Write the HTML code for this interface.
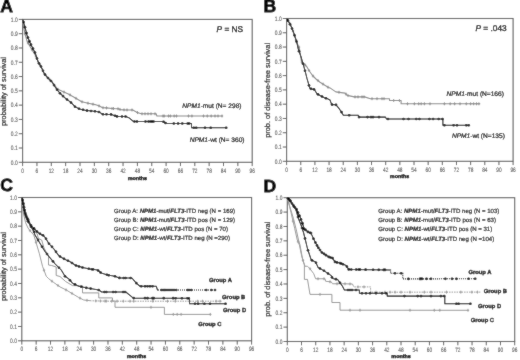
<!DOCTYPE html>
<html><head><meta charset="utf-8"><style>
html,body{margin:0;padding:0;background:#fff;}
svg{display:block;will-change:transform;}
text{font-family:"Liberation Sans", sans-serif;stroke-width:0.2;text-rendering:geometricPrecision;}
.tk{font-size:6.3px;fill:#555555;stroke:#555555;stroke-width:0.1px;}
.let{font-size:17.6px;font-weight:bold;fill:#000;stroke:#000;stroke-width:0.75px;}
.yl{font-size:7.4px;fill:#111;stroke:#111;}
.mo{font-size:5.4px;font-weight:bold;fill:#000;stroke:#000;stroke-width:0.35px;}
.pv{font-size:8.3px;fill:#000;stroke:#000;stroke-width:0.3px;}
.lb{font-size:6.6px;fill:#000;stroke:#000;}
.lg{font-size:6.07px;fill:#111;stroke:#111;}
.gp{font-size:5.8px;font-weight:bold;fill:#000;stroke:#000;stroke-width:0.3px;}
</style></head><body>
<svg width="520" height="360" viewBox="0 0 520 360">
<defs><filter id="bl" x="0" y="0" width="1" height="1"><feConvolveMatrix order="3" kernelMatrix="1 2 1 2 28 2 1 2 1" edgeMode="duplicate"/></filter></defs>
<rect width="520" height="360" fill="#fff"/>
<g filter="url(#bl)">
<rect width="520" height="360" fill="#fff"/>
<rect x="22.6" y="19.4" width="229.6" height="142.9" fill="none" stroke="#5a5a5a" stroke-width="1.1"/>
<line x1="18.8" y1="162.3" x2="22.6" y2="162.3" stroke="#5a5a5a" stroke-width="1"/>
<text transform="translate(17.7,164.55) scale(0.78,1)" class="tk" text-anchor="end">0.0</text>
<line x1="18.8" y1="148.01" x2="22.6" y2="148.01" stroke="#5a5a5a" stroke-width="1"/>
<text transform="translate(17.7,150.26) scale(0.78,1)" class="tk" text-anchor="end">0.1</text>
<line x1="18.8" y1="133.72" x2="22.6" y2="133.72" stroke="#5a5a5a" stroke-width="1"/>
<text transform="translate(17.7,135.97) scale(0.78,1)" class="tk" text-anchor="end">0.2</text>
<line x1="18.8" y1="119.43" x2="22.6" y2="119.43" stroke="#5a5a5a" stroke-width="1"/>
<text transform="translate(17.7,121.68) scale(0.78,1)" class="tk" text-anchor="end">0.3</text>
<line x1="18.8" y1="105.14" x2="22.6" y2="105.14" stroke="#5a5a5a" stroke-width="1"/>
<text transform="translate(17.7,107.39) scale(0.78,1)" class="tk" text-anchor="end">0.4</text>
<line x1="18.8" y1="90.85" x2="22.6" y2="90.85" stroke="#5a5a5a" stroke-width="1"/>
<text transform="translate(17.7,93.1) scale(0.78,1)" class="tk" text-anchor="end">0.5</text>
<line x1="18.8" y1="76.56" x2="22.6" y2="76.56" stroke="#5a5a5a" stroke-width="1"/>
<text transform="translate(17.7,78.81) scale(0.78,1)" class="tk" text-anchor="end">0.6</text>
<line x1="18.8" y1="62.27" x2="22.6" y2="62.27" stroke="#5a5a5a" stroke-width="1"/>
<text transform="translate(17.7,64.52) scale(0.78,1)" class="tk" text-anchor="end">0.7</text>
<line x1="18.8" y1="47.98" x2="22.6" y2="47.98" stroke="#5a5a5a" stroke-width="1"/>
<text transform="translate(17.7,50.23) scale(0.78,1)" class="tk" text-anchor="end">0.8</text>
<line x1="18.8" y1="33.69" x2="22.6" y2="33.69" stroke="#5a5a5a" stroke-width="1"/>
<text transform="translate(17.7,35.94) scale(0.78,1)" class="tk" text-anchor="end">0.9</text>
<line x1="18.8" y1="19.4" x2="22.6" y2="19.4" stroke="#5a5a5a" stroke-width="1"/>
<text transform="translate(17.7,21.65) scale(0.78,1)" class="tk" text-anchor="end">1.0</text>
<line x1="22.6" y1="162.3" x2="22.6" y2="166.1" stroke="#5a5a5a" stroke-width="1"/>
<text transform="translate(22.6,172.75) scale(0.76,1)" class="tk" text-anchor="middle">0</text>
<line x1="36.95" y1="162.3" x2="36.95" y2="166.1" stroke="#5a5a5a" stroke-width="1"/>
<text transform="translate(36.95,172.75) scale(0.76,1)" class="tk" text-anchor="middle">6</text>
<line x1="51.3" y1="162.3" x2="51.3" y2="166.1" stroke="#5a5a5a" stroke-width="1"/>
<text transform="translate(51.3,172.75) scale(0.76,1)" class="tk" text-anchor="middle">12</text>
<line x1="65.65" y1="162.3" x2="65.65" y2="166.1" stroke="#5a5a5a" stroke-width="1"/>
<text transform="translate(65.65,172.75) scale(0.76,1)" class="tk" text-anchor="middle">18</text>
<line x1="80" y1="162.3" x2="80" y2="166.1" stroke="#5a5a5a" stroke-width="1"/>
<text transform="translate(80,172.75) scale(0.76,1)" class="tk" text-anchor="middle">24</text>
<line x1="94.35" y1="162.3" x2="94.35" y2="166.1" stroke="#5a5a5a" stroke-width="1"/>
<text transform="translate(94.35,172.75) scale(0.76,1)" class="tk" text-anchor="middle">30</text>
<line x1="108.7" y1="162.3" x2="108.7" y2="166.1" stroke="#5a5a5a" stroke-width="1"/>
<text transform="translate(108.7,172.75) scale(0.76,1)" class="tk" text-anchor="middle">36</text>
<line x1="123.05" y1="162.3" x2="123.05" y2="166.1" stroke="#5a5a5a" stroke-width="1"/>
<text transform="translate(123.05,172.75) scale(0.76,1)" class="tk" text-anchor="middle">42</text>
<line x1="137.4" y1="162.3" x2="137.4" y2="166.1" stroke="#5a5a5a" stroke-width="1"/>
<text transform="translate(137.4,172.75) scale(0.76,1)" class="tk" text-anchor="middle">48</text>
<line x1="151.75" y1="162.3" x2="151.75" y2="166.1" stroke="#5a5a5a" stroke-width="1"/>
<text transform="translate(151.75,172.75) scale(0.76,1)" class="tk" text-anchor="middle">54</text>
<line x1="166.1" y1="162.3" x2="166.1" y2="166.1" stroke="#5a5a5a" stroke-width="1"/>
<text transform="translate(166.1,172.75) scale(0.76,1)" class="tk" text-anchor="middle">60</text>
<line x1="180.45" y1="162.3" x2="180.45" y2="166.1" stroke="#5a5a5a" stroke-width="1"/>
<text transform="translate(180.45,172.75) scale(0.76,1)" class="tk" text-anchor="middle">66</text>
<line x1="194.8" y1="162.3" x2="194.8" y2="166.1" stroke="#5a5a5a" stroke-width="1"/>
<text transform="translate(194.8,172.75) scale(0.76,1)" class="tk" text-anchor="middle">72</text>
<line x1="209.15" y1="162.3" x2="209.15" y2="166.1" stroke="#5a5a5a" stroke-width="1"/>
<text transform="translate(209.15,172.75) scale(0.76,1)" class="tk" text-anchor="middle">78</text>
<line x1="223.5" y1="162.3" x2="223.5" y2="166.1" stroke="#5a5a5a" stroke-width="1"/>
<text transform="translate(223.5,172.75) scale(0.76,1)" class="tk" text-anchor="middle">84</text>
<line x1="237.85" y1="162.3" x2="237.85" y2="166.1" stroke="#5a5a5a" stroke-width="1"/>
<text transform="translate(237.85,172.75) scale(0.76,1)" class="tk" text-anchor="middle">90</text>
<line x1="252.2" y1="162.3" x2="252.2" y2="166.1" stroke="#5a5a5a" stroke-width="1"/>
<text transform="translate(252.2,172.75) scale(0.76,1)" class="tk" text-anchor="middle">96</text>
<text x="0.3" y="12.4" class="let">A</text>
<text transform="translate(6.3,91.5) rotate(-90)" class="yl" text-anchor="middle">probability of survival</text>
<text x="137.4" y="179.6" class="mo" text-anchor="middle">months</text>
<rect x="286.6" y="18.5" width="226.5" height="142.8" fill="none" stroke="#5a5a5a" stroke-width="1.1"/>
<line x1="282.8" y1="161.3" x2="286.6" y2="161.3" stroke="#5a5a5a" stroke-width="1"/>
<text transform="translate(281.7,163.55) scale(0.78,1)" class="tk" text-anchor="end">0.0</text>
<line x1="282.8" y1="147.02" x2="286.6" y2="147.02" stroke="#5a5a5a" stroke-width="1"/>
<text transform="translate(281.7,149.27) scale(0.78,1)" class="tk" text-anchor="end">0.1</text>
<line x1="282.8" y1="132.74" x2="286.6" y2="132.74" stroke="#5a5a5a" stroke-width="1"/>
<text transform="translate(281.7,134.99) scale(0.78,1)" class="tk" text-anchor="end">0.2</text>
<line x1="282.8" y1="118.46" x2="286.6" y2="118.46" stroke="#5a5a5a" stroke-width="1"/>
<text transform="translate(281.7,120.71) scale(0.78,1)" class="tk" text-anchor="end">0.3</text>
<line x1="282.8" y1="104.18" x2="286.6" y2="104.18" stroke="#5a5a5a" stroke-width="1"/>
<text transform="translate(281.7,106.43) scale(0.78,1)" class="tk" text-anchor="end">0.4</text>
<line x1="282.8" y1="89.9" x2="286.6" y2="89.9" stroke="#5a5a5a" stroke-width="1"/>
<text transform="translate(281.7,92.15) scale(0.78,1)" class="tk" text-anchor="end">0.5</text>
<line x1="282.8" y1="75.62" x2="286.6" y2="75.62" stroke="#5a5a5a" stroke-width="1"/>
<text transform="translate(281.7,77.87) scale(0.78,1)" class="tk" text-anchor="end">0.6</text>
<line x1="282.8" y1="61.34" x2="286.6" y2="61.34" stroke="#5a5a5a" stroke-width="1"/>
<text transform="translate(281.7,63.59) scale(0.78,1)" class="tk" text-anchor="end">0.7</text>
<line x1="282.8" y1="47.06" x2="286.6" y2="47.06" stroke="#5a5a5a" stroke-width="1"/>
<text transform="translate(281.7,49.31) scale(0.78,1)" class="tk" text-anchor="end">0.8</text>
<line x1="282.8" y1="32.78" x2="286.6" y2="32.78" stroke="#5a5a5a" stroke-width="1"/>
<text transform="translate(281.7,35.03) scale(0.78,1)" class="tk" text-anchor="end">0.9</text>
<line x1="282.8" y1="18.5" x2="286.6" y2="18.5" stroke="#5a5a5a" stroke-width="1"/>
<text transform="translate(281.7,20.75) scale(0.78,1)" class="tk" text-anchor="end">1.0</text>
<line x1="286.6" y1="161.3" x2="286.6" y2="165.1" stroke="#5a5a5a" stroke-width="1"/>
<text transform="translate(286.6,171.75) scale(0.76,1)" class="tk" text-anchor="middle">0</text>
<line x1="300.76" y1="161.3" x2="300.76" y2="165.1" stroke="#5a5a5a" stroke-width="1"/>
<text transform="translate(300.76,171.75) scale(0.76,1)" class="tk" text-anchor="middle">6</text>
<line x1="314.91" y1="161.3" x2="314.91" y2="165.1" stroke="#5a5a5a" stroke-width="1"/>
<text transform="translate(314.91,171.75) scale(0.76,1)" class="tk" text-anchor="middle">12</text>
<line x1="329.07" y1="161.3" x2="329.07" y2="165.1" stroke="#5a5a5a" stroke-width="1"/>
<text transform="translate(329.07,171.75) scale(0.76,1)" class="tk" text-anchor="middle">18</text>
<line x1="343.23" y1="161.3" x2="343.23" y2="165.1" stroke="#5a5a5a" stroke-width="1"/>
<text transform="translate(343.23,171.75) scale(0.76,1)" class="tk" text-anchor="middle">24</text>
<line x1="357.38" y1="161.3" x2="357.38" y2="165.1" stroke="#5a5a5a" stroke-width="1"/>
<text transform="translate(357.38,171.75) scale(0.76,1)" class="tk" text-anchor="middle">30</text>
<line x1="371.54" y1="161.3" x2="371.54" y2="165.1" stroke="#5a5a5a" stroke-width="1"/>
<text transform="translate(371.54,171.75) scale(0.76,1)" class="tk" text-anchor="middle">36</text>
<line x1="385.69" y1="161.3" x2="385.69" y2="165.1" stroke="#5a5a5a" stroke-width="1"/>
<text transform="translate(385.69,171.75) scale(0.76,1)" class="tk" text-anchor="middle">42</text>
<line x1="399.85" y1="161.3" x2="399.85" y2="165.1" stroke="#5a5a5a" stroke-width="1"/>
<text transform="translate(399.85,171.75) scale(0.76,1)" class="tk" text-anchor="middle">48</text>
<line x1="414.01" y1="161.3" x2="414.01" y2="165.1" stroke="#5a5a5a" stroke-width="1"/>
<text transform="translate(414.01,171.75) scale(0.76,1)" class="tk" text-anchor="middle">54</text>
<line x1="428.16" y1="161.3" x2="428.16" y2="165.1" stroke="#5a5a5a" stroke-width="1"/>
<text transform="translate(428.16,171.75) scale(0.76,1)" class="tk" text-anchor="middle">60</text>
<line x1="442.32" y1="161.3" x2="442.32" y2="165.1" stroke="#5a5a5a" stroke-width="1"/>
<text transform="translate(442.32,171.75) scale(0.76,1)" class="tk" text-anchor="middle">66</text>
<line x1="456.48" y1="161.3" x2="456.48" y2="165.1" stroke="#5a5a5a" stroke-width="1"/>
<text transform="translate(456.48,171.75) scale(0.76,1)" class="tk" text-anchor="middle">72</text>
<line x1="470.63" y1="161.3" x2="470.63" y2="165.1" stroke="#5a5a5a" stroke-width="1"/>
<text transform="translate(470.63,171.75) scale(0.76,1)" class="tk" text-anchor="middle">78</text>
<line x1="484.79" y1="161.3" x2="484.79" y2="165.1" stroke="#5a5a5a" stroke-width="1"/>
<text transform="translate(484.79,171.75) scale(0.76,1)" class="tk" text-anchor="middle">84</text>
<line x1="498.94" y1="161.3" x2="498.94" y2="165.1" stroke="#5a5a5a" stroke-width="1"/>
<text transform="translate(498.94,171.75) scale(0.76,1)" class="tk" text-anchor="middle">90</text>
<line x1="513.1" y1="161.3" x2="513.1" y2="165.1" stroke="#5a5a5a" stroke-width="1"/>
<text transform="translate(513.1,171.75) scale(0.76,1)" class="tk" text-anchor="middle">96</text>
<text x="263.4" y="12.4" class="let">B</text>
<text transform="translate(270,90.4) rotate(-90)" class="yl" text-anchor="middle">prob. of disease-free survival</text>
<text x="399.6" y="178.3" class="mo" text-anchor="middle">months</text>
<rect x="21.8" y="197.5" width="229.8" height="143.3" fill="none" stroke="#5a5a5a" stroke-width="1.1"/>
<line x1="18" y1="340.8" x2="21.8" y2="340.8" stroke="#5a5a5a" stroke-width="1"/>
<text transform="translate(16.9,343.05) scale(0.78,1)" class="tk" text-anchor="end">0.0</text>
<line x1="18" y1="326.47" x2="21.8" y2="326.47" stroke="#5a5a5a" stroke-width="1"/>
<text transform="translate(16.9,328.72) scale(0.78,1)" class="tk" text-anchor="end">0.1</text>
<line x1="18" y1="312.14" x2="21.8" y2="312.14" stroke="#5a5a5a" stroke-width="1"/>
<text transform="translate(16.9,314.39) scale(0.78,1)" class="tk" text-anchor="end">0.2</text>
<line x1="18" y1="297.81" x2="21.8" y2="297.81" stroke="#5a5a5a" stroke-width="1"/>
<text transform="translate(16.9,300.06) scale(0.78,1)" class="tk" text-anchor="end">0.3</text>
<line x1="18" y1="283.48" x2="21.8" y2="283.48" stroke="#5a5a5a" stroke-width="1"/>
<text transform="translate(16.9,285.73) scale(0.78,1)" class="tk" text-anchor="end">0.4</text>
<line x1="18" y1="269.15" x2="21.8" y2="269.15" stroke="#5a5a5a" stroke-width="1"/>
<text transform="translate(16.9,271.4) scale(0.78,1)" class="tk" text-anchor="end">0.5</text>
<line x1="18" y1="254.82" x2="21.8" y2="254.82" stroke="#5a5a5a" stroke-width="1"/>
<text transform="translate(16.9,257.07) scale(0.78,1)" class="tk" text-anchor="end">0.6</text>
<line x1="18" y1="240.49" x2="21.8" y2="240.49" stroke="#5a5a5a" stroke-width="1"/>
<text transform="translate(16.9,242.74) scale(0.78,1)" class="tk" text-anchor="end">0.7</text>
<line x1="18" y1="226.16" x2="21.8" y2="226.16" stroke="#5a5a5a" stroke-width="1"/>
<text transform="translate(16.9,228.41) scale(0.78,1)" class="tk" text-anchor="end">0.8</text>
<line x1="18" y1="211.83" x2="21.8" y2="211.83" stroke="#5a5a5a" stroke-width="1"/>
<text transform="translate(16.9,214.08) scale(0.78,1)" class="tk" text-anchor="end">0.9</text>
<line x1="18" y1="197.5" x2="21.8" y2="197.5" stroke="#5a5a5a" stroke-width="1"/>
<text transform="translate(16.9,199.75) scale(0.78,1)" class="tk" text-anchor="end">1.0</text>
<line x1="21.8" y1="340.8" x2="21.8" y2="344.6" stroke="#5a5a5a" stroke-width="1"/>
<text transform="translate(21.8,351.25) scale(0.76,1)" class="tk" text-anchor="middle">0</text>
<line x1="36.16" y1="340.8" x2="36.16" y2="344.6" stroke="#5a5a5a" stroke-width="1"/>
<text transform="translate(36.16,351.25) scale(0.76,1)" class="tk" text-anchor="middle">6</text>
<line x1="50.52" y1="340.8" x2="50.52" y2="344.6" stroke="#5a5a5a" stroke-width="1"/>
<text transform="translate(50.52,351.25) scale(0.76,1)" class="tk" text-anchor="middle">12</text>
<line x1="64.89" y1="340.8" x2="64.89" y2="344.6" stroke="#5a5a5a" stroke-width="1"/>
<text transform="translate(64.89,351.25) scale(0.76,1)" class="tk" text-anchor="middle">18</text>
<line x1="79.25" y1="340.8" x2="79.25" y2="344.6" stroke="#5a5a5a" stroke-width="1"/>
<text transform="translate(79.25,351.25) scale(0.76,1)" class="tk" text-anchor="middle">24</text>
<line x1="93.61" y1="340.8" x2="93.61" y2="344.6" stroke="#5a5a5a" stroke-width="1"/>
<text transform="translate(93.61,351.25) scale(0.76,1)" class="tk" text-anchor="middle">30</text>
<line x1="107.97" y1="340.8" x2="107.97" y2="344.6" stroke="#5a5a5a" stroke-width="1"/>
<text transform="translate(107.97,351.25) scale(0.76,1)" class="tk" text-anchor="middle">36</text>
<line x1="122.34" y1="340.8" x2="122.34" y2="344.6" stroke="#5a5a5a" stroke-width="1"/>
<text transform="translate(122.34,351.25) scale(0.76,1)" class="tk" text-anchor="middle">42</text>
<line x1="136.7" y1="340.8" x2="136.7" y2="344.6" stroke="#5a5a5a" stroke-width="1"/>
<text transform="translate(136.7,351.25) scale(0.76,1)" class="tk" text-anchor="middle">48</text>
<line x1="151.06" y1="340.8" x2="151.06" y2="344.6" stroke="#5a5a5a" stroke-width="1"/>
<text transform="translate(151.06,351.25) scale(0.76,1)" class="tk" text-anchor="middle">54</text>
<line x1="165.43" y1="340.8" x2="165.43" y2="344.6" stroke="#5a5a5a" stroke-width="1"/>
<text transform="translate(165.43,351.25) scale(0.76,1)" class="tk" text-anchor="middle">60</text>
<line x1="179.79" y1="340.8" x2="179.79" y2="344.6" stroke="#5a5a5a" stroke-width="1"/>
<text transform="translate(179.79,351.25) scale(0.76,1)" class="tk" text-anchor="middle">66</text>
<line x1="194.15" y1="340.8" x2="194.15" y2="344.6" stroke="#5a5a5a" stroke-width="1"/>
<text transform="translate(194.15,351.25) scale(0.76,1)" class="tk" text-anchor="middle">72</text>
<line x1="208.51" y1="340.8" x2="208.51" y2="344.6" stroke="#5a5a5a" stroke-width="1"/>
<text transform="translate(208.51,351.25) scale(0.76,1)" class="tk" text-anchor="middle">78</text>
<line x1="222.88" y1="340.8" x2="222.88" y2="344.6" stroke="#5a5a5a" stroke-width="1"/>
<text transform="translate(222.88,351.25) scale(0.76,1)" class="tk" text-anchor="middle">84</text>
<line x1="237.24" y1="340.8" x2="237.24" y2="344.6" stroke="#5a5a5a" stroke-width="1"/>
<text transform="translate(237.24,351.25) scale(0.76,1)" class="tk" text-anchor="middle">90</text>
<line x1="251.6" y1="340.8" x2="251.6" y2="344.6" stroke="#5a5a5a" stroke-width="1"/>
<text transform="translate(251.6,351.25) scale(0.76,1)" class="tk" text-anchor="middle">96</text>
<text x="0.2" y="191.4" class="let">C</text>
<text transform="translate(6,266.5) rotate(-90)" class="yl" text-anchor="middle">probability of survival</text>
<text x="136.5" y="357.7" class="mo" text-anchor="middle">months</text>
<rect x="287.3" y="197.7" width="227.4" height="143.8" fill="none" stroke="#5a5a5a" stroke-width="1.1"/>
<line x1="283.5" y1="341.5" x2="287.3" y2="341.5" stroke="#5a5a5a" stroke-width="1"/>
<text transform="translate(282.4,343.75) scale(0.78,1)" class="tk" text-anchor="end">0.0</text>
<line x1="283.5" y1="327.12" x2="287.3" y2="327.12" stroke="#5a5a5a" stroke-width="1"/>
<text transform="translate(282.4,329.37) scale(0.78,1)" class="tk" text-anchor="end">0.1</text>
<line x1="283.5" y1="312.74" x2="287.3" y2="312.74" stroke="#5a5a5a" stroke-width="1"/>
<text transform="translate(282.4,314.99) scale(0.78,1)" class="tk" text-anchor="end">0.2</text>
<line x1="283.5" y1="298.36" x2="287.3" y2="298.36" stroke="#5a5a5a" stroke-width="1"/>
<text transform="translate(282.4,300.61) scale(0.78,1)" class="tk" text-anchor="end">0.3</text>
<line x1="283.5" y1="283.98" x2="287.3" y2="283.98" stroke="#5a5a5a" stroke-width="1"/>
<text transform="translate(282.4,286.23) scale(0.78,1)" class="tk" text-anchor="end">0.4</text>
<line x1="283.5" y1="269.6" x2="287.3" y2="269.6" stroke="#5a5a5a" stroke-width="1"/>
<text transform="translate(282.4,271.85) scale(0.78,1)" class="tk" text-anchor="end">0.5</text>
<line x1="283.5" y1="255.22" x2="287.3" y2="255.22" stroke="#5a5a5a" stroke-width="1"/>
<text transform="translate(282.4,257.47) scale(0.78,1)" class="tk" text-anchor="end">0.6</text>
<line x1="283.5" y1="240.84" x2="287.3" y2="240.84" stroke="#5a5a5a" stroke-width="1"/>
<text transform="translate(282.4,243.09) scale(0.78,1)" class="tk" text-anchor="end">0.7</text>
<line x1="283.5" y1="226.46" x2="287.3" y2="226.46" stroke="#5a5a5a" stroke-width="1"/>
<text transform="translate(282.4,228.71) scale(0.78,1)" class="tk" text-anchor="end">0.8</text>
<line x1="283.5" y1="212.08" x2="287.3" y2="212.08" stroke="#5a5a5a" stroke-width="1"/>
<text transform="translate(282.4,214.33) scale(0.78,1)" class="tk" text-anchor="end">0.9</text>
<line x1="283.5" y1="197.7" x2="287.3" y2="197.7" stroke="#5a5a5a" stroke-width="1"/>
<text transform="translate(282.4,199.95) scale(0.78,1)" class="tk" text-anchor="end">1.0</text>
<line x1="287.3" y1="341.5" x2="287.3" y2="345.3" stroke="#5a5a5a" stroke-width="1"/>
<text transform="translate(287.3,351.95) scale(0.76,1)" class="tk" text-anchor="middle">0</text>
<line x1="301.51" y1="341.5" x2="301.51" y2="345.3" stroke="#5a5a5a" stroke-width="1"/>
<text transform="translate(301.51,351.95) scale(0.76,1)" class="tk" text-anchor="middle">6</text>
<line x1="315.73" y1="341.5" x2="315.73" y2="345.3" stroke="#5a5a5a" stroke-width="1"/>
<text transform="translate(315.73,351.95) scale(0.76,1)" class="tk" text-anchor="middle">12</text>
<line x1="329.94" y1="341.5" x2="329.94" y2="345.3" stroke="#5a5a5a" stroke-width="1"/>
<text transform="translate(329.94,351.95) scale(0.76,1)" class="tk" text-anchor="middle">18</text>
<line x1="344.15" y1="341.5" x2="344.15" y2="345.3" stroke="#5a5a5a" stroke-width="1"/>
<text transform="translate(344.15,351.95) scale(0.76,1)" class="tk" text-anchor="middle">24</text>
<line x1="358.36" y1="341.5" x2="358.36" y2="345.3" stroke="#5a5a5a" stroke-width="1"/>
<text transform="translate(358.36,351.95) scale(0.76,1)" class="tk" text-anchor="middle">30</text>
<line x1="372.58" y1="341.5" x2="372.58" y2="345.3" stroke="#5a5a5a" stroke-width="1"/>
<text transform="translate(372.58,351.95) scale(0.76,1)" class="tk" text-anchor="middle">36</text>
<line x1="386.79" y1="341.5" x2="386.79" y2="345.3" stroke="#5a5a5a" stroke-width="1"/>
<text transform="translate(386.79,351.95) scale(0.76,1)" class="tk" text-anchor="middle">42</text>
<line x1="401" y1="341.5" x2="401" y2="345.3" stroke="#5a5a5a" stroke-width="1"/>
<text transform="translate(401,351.95) scale(0.76,1)" class="tk" text-anchor="middle">48</text>
<line x1="415.21" y1="341.5" x2="415.21" y2="345.3" stroke="#5a5a5a" stroke-width="1"/>
<text transform="translate(415.21,351.95) scale(0.76,1)" class="tk" text-anchor="middle">54</text>
<line x1="429.43" y1="341.5" x2="429.43" y2="345.3" stroke="#5a5a5a" stroke-width="1"/>
<text transform="translate(429.43,351.95) scale(0.76,1)" class="tk" text-anchor="middle">60</text>
<line x1="443.64" y1="341.5" x2="443.64" y2="345.3" stroke="#5a5a5a" stroke-width="1"/>
<text transform="translate(443.64,351.95) scale(0.76,1)" class="tk" text-anchor="middle">66</text>
<line x1="457.85" y1="341.5" x2="457.85" y2="345.3" stroke="#5a5a5a" stroke-width="1"/>
<text transform="translate(457.85,351.95) scale(0.76,1)" class="tk" text-anchor="middle">72</text>
<line x1="472.06" y1="341.5" x2="472.06" y2="345.3" stroke="#5a5a5a" stroke-width="1"/>
<text transform="translate(472.06,351.95) scale(0.76,1)" class="tk" text-anchor="middle">78</text>
<line x1="486.28" y1="341.5" x2="486.28" y2="345.3" stroke="#5a5a5a" stroke-width="1"/>
<text transform="translate(486.28,351.95) scale(0.76,1)" class="tk" text-anchor="middle">84</text>
<line x1="500.49" y1="341.5" x2="500.49" y2="345.3" stroke="#5a5a5a" stroke-width="1"/>
<text transform="translate(500.49,351.95) scale(0.76,1)" class="tk" text-anchor="middle">90</text>
<line x1="514.7" y1="341.5" x2="514.7" y2="345.3" stroke="#5a5a5a" stroke-width="1"/>
<text transform="translate(514.7,351.95) scale(0.76,1)" class="tk" text-anchor="middle">96</text>
<text x="263.4" y="191.5" class="let">D</text>
<text transform="translate(270,269.3) rotate(-90)" class="yl" text-anchor="middle">prob. of disease-free survival</text>
<text x="401.1" y="357.8" class="mo" text-anchor="middle">months</text>
<polyline points="22.6,19.4 23.3,24.9 25,33.8 27.2,41.6 31.1,48.2 34.4,53.8 36.7,57.8 38.3,62.2 41.1,66.7 44.4,73.9 47.8,77.8 52.2,82.2 55,85.5 57.2,88.9 61.7,91.1 68.3,93.9 75,97.8 81.7,101.7 88.3,103.3 95,104.6 98.8,105.8 102.7,107.7 106.5,107.9 111.9,108.5 118.1,108.8 120.4,109.6 124.2,109.9 132.7,110 135,111.2 137.7,112.7 141.5,113.8 156.2,113.8 156.9,116 222.7,116" fill="none" stroke="#8a8a8a" stroke-width="1.1" stroke-linejoin="round"/>
<path d="M25,32.3V35.3M23.8,33.8H26.2" stroke="#8a8a8a" stroke-width="0.9" fill="none"/>
<path d="M28,41.45V44.45M26.8,42.95H29.2" stroke="#8a8a8a" stroke-width="0.9" fill="none"/>
<path d="M32,48.23V51.23M30.8,49.73H33.2" stroke="#8a8a8a" stroke-width="0.9" fill="none"/>
<path d="M36,55.08V58.08M34.8,56.58H37.2" stroke="#8a8a8a" stroke-width="0.9" fill="none"/>
<path d="M40,63.43V66.43M38.8,64.93H41.2" stroke="#8a8a8a" stroke-width="0.9" fill="none"/>
<path d="M45,73.09V76.09M43.8,74.59H46.2" stroke="#8a8a8a" stroke-width="0.9" fill="none"/>
<path d="M50,78.5V81.5M48.8,80H51.2" stroke="#8a8a8a" stroke-width="0.9" fill="none"/>
<path d="M58,87.79V90.79M56.8,89.29H59.2" stroke="#8a8a8a" stroke-width="0.9" fill="none"/>
<path d="M64,90.58V93.58M62.8,92.08H65.2" stroke="#8a8a8a" stroke-width="0.9" fill="none"/>
<path d="M70,93.39V96.39M68.8,94.89H71.2" stroke="#8a8a8a" stroke-width="0.9" fill="none"/>
<path d="M76,96.88V99.88M74.8,98.38H77.2" stroke="#8a8a8a" stroke-width="0.9" fill="none"/>
<path d="M82,100.27V103.27M80.8,101.77H83.2" stroke="#8a8a8a" stroke-width="0.9" fill="none"/>
<path d="M88,101.73V104.73M86.8,103.23H89.2" stroke="#8a8a8a" stroke-width="0.9" fill="none"/>
<path d="M93,102.71V105.71M91.8,104.21H94.2" stroke="#8a8a8a" stroke-width="0.9" fill="none"/>
<path d="M99,104.4V107.4M97.8,105.9H100.2" stroke="#8a8a8a" stroke-width="0.9" fill="none"/>
<path d="M103,106.22V109.22M101.8,107.72H104.2" stroke="#8a8a8a" stroke-width="0.9" fill="none"/>
<path d="M106.5,106.4V109.4M105.3,107.9H107.7" stroke="#8a8a8a" stroke-width="0.9" fill="none"/>
<path d="M112,107V110M110.8,108.5H113.2" stroke="#8a8a8a" stroke-width="0.9" fill="none"/>
<path d="M113.5,107.08V110.08M112.3,108.58H114.7" stroke="#8a8a8a" stroke-width="0.9" fill="none"/>
<path d="M118,107.3V110.3M116.8,108.8H119.2" stroke="#8a8a8a" stroke-width="0.9" fill="none"/>
<path d="M120,107.96V110.96M118.8,109.46H121.2" stroke="#8a8a8a" stroke-width="0.9" fill="none"/>
<path d="M124,108.38V111.38M122.8,109.88H125.2" stroke="#8a8a8a" stroke-width="0.9" fill="none"/>
<path d="M127,108.43V111.43M125.8,109.93H128.2" stroke="#8a8a8a" stroke-width="0.9" fill="none"/>
<path d="M132,108.49V111.49M130.8,109.99H133.2" stroke="#8a8a8a" stroke-width="0.9" fill="none"/>
<path d="M137.5,111.09V114.09M136.3,112.59H138.7" stroke="#8a8a8a" stroke-width="0.9" fill="none"/>
<path d="M142,112.3V115.3M140.8,113.8H143.2" stroke="#8a8a8a" stroke-width="0.9" fill="none"/>
<path d="M145,112.3V115.3M143.8,113.8H146.2" stroke="#8a8a8a" stroke-width="0.9" fill="none"/>
<path d="M148,112.3V115.3M146.8,113.8H149.2" stroke="#8a8a8a" stroke-width="0.9" fill="none"/>
<path d="M151,112.3V115.3M149.8,113.8H152.2" stroke="#8a8a8a" stroke-width="0.9" fill="none"/>
<path d="M155,112.3V115.3M153.8,113.8H156.2" stroke="#8a8a8a" stroke-width="0.9" fill="none"/>
<path d="M163,114.5V117.5M161.8,116H164.2" stroke="#8a8a8a" stroke-width="0.9" fill="none"/>
<path d="M164.2,114.5V117.5M163,116H165.4" stroke="#8a8a8a" stroke-width="0.9" fill="none"/>
<path d="M168.5,114.5V117.5M167.3,116H169.7" stroke="#8a8a8a" stroke-width="0.9" fill="none"/>
<path d="M170.4,114.5V117.5M169.2,116H171.6" stroke="#8a8a8a" stroke-width="0.9" fill="none"/>
<path d="M174.2,114.5V117.5M173,116H175.4" stroke="#8a8a8a" stroke-width="0.9" fill="none"/>
<path d="M176.5,114.5V117.5M175.3,116H177.7" stroke="#8a8a8a" stroke-width="0.9" fill="none"/>
<path d="M188.5,114.5V117.5M187.3,116H189.7" stroke="#8a8a8a" stroke-width="0.9" fill="none"/>
<path d="M191.9,114.5V117.5M190.7,116H193.1" stroke="#8a8a8a" stroke-width="0.9" fill="none"/>
<path d="M203.5,114.5V117.5M202.3,116H204.7" stroke="#8a8a8a" stroke-width="0.9" fill="none"/>
<path d="M207.3,114.5V117.5M206.1,116H208.5" stroke="#8a8a8a" stroke-width="0.9" fill="none"/>
<path d="M211.2,114.5V117.5M210,116H212.4" stroke="#8a8a8a" stroke-width="0.9" fill="none"/>
<path d="M215,114.5V117.5M213.8,116H216.2" stroke="#8a8a8a" stroke-width="0.9" fill="none"/>
<path d="M218,114.5V117.5M216.8,116H219.2" stroke="#8a8a8a" stroke-width="0.9" fill="none"/>
<path d="M222,114.5V117.5M220.8,116H223.2" stroke="#8a8a8a" stroke-width="0.9" fill="none"/>
<polyline points="22.6,19.4 22.8,19.9 23.9,23.2 25.6,29.3 27.2,36 28.3,38.2 30,42.7 32.8,48.2 35.6,53.8 36.7,57.8 38.3,62.2 41.1,66.7 44.4,73.9 47.8,77.8 52.2,82.2 55,86.7 57.2,90 60.6,93.9 66.1,98.9 70.6,102.2 75,106.7 79.4,108.9 86.1,110.6 92.8,111.1 95,111.2 98.8,111.9 102.7,114.2 111.2,114.4 115,115.8 117.3,116.5 125.8,116.5 128.8,117.7 131.2,119.6 133.5,121.5 163.1,121.5 166.2,123.5 191.5,123.5 191.5,127.7 226.5,127.7" fill="none" stroke="#000" stroke-width="1.05" stroke-linejoin="round"/>
<circle cx="23.5" cy="22" r="1.3" fill="#000"/>
<circle cx="25" cy="27.15" r="1.3" fill="#000"/>
<circle cx="26.5" cy="33.07" r="1.3" fill="#000"/>
<circle cx="28" cy="37.6" r="1.3" fill="#000"/>
<circle cx="29.5" cy="41.38" r="1.3" fill="#000"/>
<circle cx="31" cy="44.66" r="1.3" fill="#000"/>
<circle cx="33" cy="48.6" r="1.3" fill="#000"/>
<circle cx="35" cy="52.6" r="1.3" fill="#000"/>
<circle cx="37" cy="58.62" r="1.3" fill="#000"/>
<circle cx="39" cy="63.33" r="1.3" fill="#000"/>
<circle cx="41" cy="66.54" r="1.3" fill="#000"/>
<circle cx="43" cy="70.85" r="1.3" fill="#000"/>
<circle cx="45" cy="74.59" r="1.3" fill="#000"/>
<circle cx="48" cy="78" r="1.3" fill="#000"/>
<circle cx="51" cy="81" r="1.3" fill="#000"/>
<circle cx="54" cy="85.09" r="1.3" fill="#000"/>
<circle cx="57" cy="89.7" r="1.3" fill="#000"/>
<circle cx="60" cy="93.21" r="1.3" fill="#000"/>
<circle cx="63" cy="96.08" r="1.3" fill="#000"/>
<circle cx="67" cy="99.56" r="1.3" fill="#000"/>
<circle cx="71" cy="102.61" r="1.3" fill="#000"/>
<circle cx="75" cy="106.7" r="1.3" fill="#000"/>
<circle cx="79" cy="108.7" r="1.3" fill="#000"/>
<circle cx="83" cy="109.81" r="1.3" fill="#000"/>
<circle cx="87" cy="110.67" r="1.3" fill="#000"/>
<circle cx="91" cy="110.97" r="1.3" fill="#000"/>
<circle cx="95" cy="111.2" r="1.3" fill="#000"/>
<circle cx="99" cy="112.02" r="1.3" fill="#000"/>
<circle cx="103" cy="114.21" r="1.3" fill="#000"/>
<circle cx="106.5" cy="114.29" r="1.3" fill="#000"/>
<circle cx="111" cy="114.4" r="1.3" fill="#000"/>
<circle cx="115" cy="115.8" r="1.3" fill="#000"/>
<circle cx="117" cy="116.41" r="1.3" fill="#000"/>
<circle cx="122" cy="116.5" r="1.3" fill="#000"/>
<circle cx="125.5" cy="116.5" r="1.3" fill="#000"/>
<circle cx="134.5" cy="121.5" r="1.3" fill="#000"/>
<circle cx="137" cy="121.5" r="1.3" fill="#000"/>
<circle cx="145.5" cy="121.5" r="1.3" fill="#000"/>
<circle cx="148.5" cy="121.5" r="1.3" fill="#000"/>
<circle cx="150.5" cy="121.5" r="1.3" fill="#000"/>
<circle cx="152" cy="121.5" r="1.3" fill="#000"/>
<circle cx="153.5" cy="121.5" r="1.3" fill="#000"/>
<circle cx="163.5" cy="121.76" r="1.3" fill="#000"/>
<circle cx="165.5" cy="123.05" r="1.3" fill="#000"/>
<circle cx="173.8" cy="123.5" r="1.3" fill="#000"/>
<circle cx="178.1" cy="123.5" r="1.3" fill="#000"/>
<circle cx="182.3" cy="123.5" r="1.3" fill="#000"/>
<circle cx="187.7" cy="123.5" r="1.3" fill="#000"/>
<circle cx="189.2" cy="123.5" r="1.3" fill="#000"/>
<circle cx="193.8" cy="127.7" r="1.3" fill="#000"/>
<circle cx="196.2" cy="127.7" r="1.3" fill="#000"/>
<circle cx="205" cy="127.7" r="1.3" fill="#000"/>
<circle cx="210.7" cy="127.7" r="1.3" fill="#000"/>
<circle cx="226.2" cy="127.7" r="1.3" fill="#000"/>
<polyline points="286.6,18.5 287.1,19.1 289.4,23 291,26.1 292.6,30 294.1,33.9 295.3,37.8 296.8,42.4 299.3,47.8 300.7,56.7 301.5,62 304,64 306.7,66.5 309,70.5 312.5,75.5 316,79 320,82.2 328.9,87.8 330,87.9 335.8,91.9 345,93.1 347.3,95.4 354.2,96.9 364.6,96.9 370.4,98.7 389.5,98.7 389.5,100.5 401.1,100.5 401.1,103.8 480.2,103.8" fill="none" stroke="#8a8a8a" stroke-width="1.1" stroke-linejoin="round"/>
<path d="M290,22.66V25.66M288.8,24.16H291.2" stroke="#8a8a8a" stroke-width="0.9" fill="none"/>
<path d="M293,29.54V32.54M291.8,31.04H294.2" stroke="#8a8a8a" stroke-width="0.9" fill="none"/>
<path d="M296,38.45V41.45M294.8,39.95H297.2" stroke="#8a8a8a" stroke-width="0.9" fill="none"/>
<path d="M299,45.65V48.65M297.8,47.15H300.2" stroke="#8a8a8a" stroke-width="0.9" fill="none"/>
<path d="M302,60.9V63.9M300.8,62.4H303.2" stroke="#8a8a8a" stroke-width="0.9" fill="none"/>
<path d="M305,63.43V66.43M303.8,64.93H306.2" stroke="#8a8a8a" stroke-width="0.9" fill="none"/>
<path d="M309,69V72M307.8,70.5H310.2" stroke="#8a8a8a" stroke-width="0.9" fill="none"/>
<path d="M313,74.5V77.5M311.8,76H314.2" stroke="#8a8a8a" stroke-width="0.9" fill="none"/>
<path d="M318,79.1V82.1M316.8,80.6H319.2" stroke="#8a8a8a" stroke-width="0.9" fill="none"/>
<path d="M323,82.59V85.59M321.8,84.09H324.2" stroke="#8a8a8a" stroke-width="0.9" fill="none"/>
<path d="M328,85.73V88.73M326.8,87.23H329.2" stroke="#8a8a8a" stroke-width="0.9" fill="none"/>
<path d="M339,90.82V93.82M337.8,92.32H340.2" stroke="#8a8a8a" stroke-width="0.9" fill="none"/>
<path d="M346,92.6V95.6M344.8,94.1H347.2" stroke="#8a8a8a" stroke-width="0.9" fill="none"/>
<path d="M348,94.05V97.05M346.8,95.55H349.2" stroke="#8a8a8a" stroke-width="0.9" fill="none"/>
<path d="M355,95.4V98.4M353.8,96.9H356.2" stroke="#8a8a8a" stroke-width="0.9" fill="none"/>
<path d="M358,95.4V98.4M356.8,96.9H359.2" stroke="#8a8a8a" stroke-width="0.9" fill="none"/>
<path d="M362,95.4V98.4M360.8,96.9H363.2" stroke="#8a8a8a" stroke-width="0.9" fill="none"/>
<path d="M364,95.4V98.4M362.8,96.9H365.2" stroke="#8a8a8a" stroke-width="0.9" fill="none"/>
<path d="M372,97.2V100.2M370.8,98.7H373.2" stroke="#8a8a8a" stroke-width="0.9" fill="none"/>
<path d="M377,97.2V100.2M375.8,98.7H378.2" stroke="#8a8a8a" stroke-width="0.9" fill="none"/>
<path d="M382,97.2V100.2M380.8,98.7H383.2" stroke="#8a8a8a" stroke-width="0.9" fill="none"/>
<path d="M384,97.2V100.2M382.8,98.7H385.2" stroke="#8a8a8a" stroke-width="0.9" fill="none"/>
<path d="M393.7,99V102M392.5,100.5H394.9" stroke="#8a8a8a" stroke-width="0.9" fill="none"/>
<path d="M399.4,99V102M398.2,100.5H400.6" stroke="#8a8a8a" stroke-width="0.9" fill="none"/>
<path d="M407.5,102.3V105.3M406.3,103.8H408.7" stroke="#8a8a8a" stroke-width="0.9" fill="none"/>
<path d="M414.4,102.3V105.3M413.2,103.8H415.6" stroke="#8a8a8a" stroke-width="0.9" fill="none"/>
<path d="M418.7,102.3V105.3M417.5,103.8H419.9" stroke="#8a8a8a" stroke-width="0.9" fill="none"/>
<path d="M421.2,102.3V105.3M420,103.8H422.4" stroke="#8a8a8a" stroke-width="0.9" fill="none"/>
<path d="M424.4,102.3V105.3M423.2,103.8H425.6" stroke="#8a8a8a" stroke-width="0.9" fill="none"/>
<path d="M430,102.3V105.3M428.8,103.8H431.2" stroke="#8a8a8a" stroke-width="0.9" fill="none"/>
<path d="M444.4,102.3V105.3M443.2,103.8H445.6" stroke="#8a8a8a" stroke-width="0.9" fill="none"/>
<path d="M450.2,102.3V105.3M449,103.8H451.4" stroke="#8a8a8a" stroke-width="0.9" fill="none"/>
<path d="M454.6,102.3V105.3M453.4,103.8H455.8" stroke="#8a8a8a" stroke-width="0.9" fill="none"/>
<path d="M460,102.3V105.3M458.8,103.8H461.2" stroke="#8a8a8a" stroke-width="0.9" fill="none"/>
<path d="M466.3,102.3V105.3M465.1,103.8H467.5" stroke="#8a8a8a" stroke-width="0.9" fill="none"/>
<path d="M470.6,102.3V105.3M469.4,103.8H471.8" stroke="#8a8a8a" stroke-width="0.9" fill="none"/>
<path d="M473.6,102.3V105.3M472.4,103.8H474.8" stroke="#8a8a8a" stroke-width="0.9" fill="none"/>
<path d="M476.5,102.3V105.3M475.3,103.8H477.7" stroke="#8a8a8a" stroke-width="0.9" fill="none"/>
<path d="M478.9,102.3V105.3M477.7,103.8H480.1" stroke="#8a8a8a" stroke-width="0.9" fill="none"/>
<polyline points="286.6,18.5 287.1,19.1 289.4,23 291,26.1 292.6,30 294.1,33.9 295.3,37.8 296.8,42.4 298.2,48.9 301,56.7 303.2,64.4 305.4,72.2 307.1,78.9 308.9,85 310,88.7 314.4,89.4 316.9,93.7 320,95.5 324.4,97.8 327.5,98.7 330,100 331.7,104.6 335.8,104.6 339.2,108.7 341.5,112.1 343.3,115.2 358.3,115.2 358.8,117.1 385.4,117.1 386.5,119 442.9,119 442.9,125.3 469.2,125.3" fill="none" stroke="#000" stroke-width="1.05" stroke-linejoin="round"/>
<circle cx="288" cy="20.63" r="1.3" fill="#000"/>
<circle cx="290" cy="24.16" r="1.3" fill="#000"/>
<circle cx="292" cy="28.54" r="1.3" fill="#000"/>
<circle cx="294.5" cy="35.2" r="1.3" fill="#000"/>
<circle cx="296.5" cy="41.48" r="1.3" fill="#000"/>
<circle cx="299" cy="51.13" r="1.3" fill="#000"/>
<circle cx="303" cy="63.7" r="1.3" fill="#000"/>
<circle cx="305" cy="70.78" r="1.3" fill="#000"/>
<circle cx="309" cy="85.34" r="1.3" fill="#000"/>
<circle cx="311" cy="88.86" r="1.3" fill="#000"/>
<circle cx="314" cy="89.34" r="1.3" fill="#000"/>
<circle cx="318" cy="94.34" r="1.3" fill="#000"/>
<circle cx="322" cy="96.55" r="1.3" fill="#000"/>
<circle cx="326" cy="98.26" r="1.3" fill="#000"/>
<circle cx="332" cy="104.6" r="1.3" fill="#000"/>
<circle cx="336" cy="104.84" r="1.3" fill="#000"/>
<circle cx="341.5" cy="112.1" r="1.3" fill="#000"/>
<circle cx="349.2" cy="115.2" r="1.3" fill="#000"/>
<circle cx="359" cy="117.1" r="1.3" fill="#000"/>
<circle cx="367.5" cy="117.1" r="1.3" fill="#000"/>
<circle cx="371" cy="117.1" r="1.3" fill="#000"/>
<circle cx="373" cy="117.1" r="1.3" fill="#000"/>
<circle cx="379" cy="117.1" r="1.3" fill="#000"/>
<circle cx="388" cy="119" r="1.3" fill="#000"/>
<circle cx="403.5" cy="119" r="1.3" fill="#000"/>
<circle cx="408.5" cy="119" r="1.3" fill="#000"/>
<circle cx="416.2" cy="119" r="1.3" fill="#000"/>
<circle cx="419.4" cy="119" r="1.3" fill="#000"/>
<circle cx="429.4" cy="119" r="1.3" fill="#000"/>
<circle cx="433.1" cy="119" r="1.3" fill="#000"/>
<circle cx="438.7" cy="119" r="1.3" fill="#000"/>
<circle cx="442.5" cy="119" r="1.3" fill="#000"/>
<circle cx="444.4" cy="125.3" r="1.3" fill="#000"/>
<circle cx="453.6" cy="125.3" r="1.3" fill="#000"/>
<circle cx="457" cy="125.3" r="1.3" fill="#000"/>
<circle cx="466.3" cy="125.3" r="1.3" fill="#000"/>
<circle cx="468.7" cy="125.3" r="1.3" fill="#000"/>
<polyline points="21.8,197.5 23,206 25,216 28,222.5 31.1,226 35,231.7 37.2,233.9 38.3,238.3 41.7,240 44,248 48.5,256 48.5,265 51.7,265.5 56.2,267 56.2,275.5 60,276.5 65.6,281.5 72.5,285.6 82.5,285.8 82.5,292.9 98.75,292.9 98.75,297.9 112.5,297.9 112.5,301 115,301 115,307.3 164.4,307.3 164.4,314.4 210.9,314.4" fill="none" stroke="#8a8a8a" stroke-width="0.9" stroke-linejoin="round"/>
<path d="M151,305.8V308.8M149.8,307.3H152.2" stroke="#999" stroke-width="0.9" fill="none"/>
<path d="M173.3,312.9V315.9M172.1,314.4H174.5" stroke="#999" stroke-width="0.9" fill="none"/>
<path d="M177.2,312.9V315.9M176,314.4H178.4" stroke="#999" stroke-width="0.9" fill="none"/>
<path d="M181.1,312.9V315.9M179.9,314.4H182.3" stroke="#999" stroke-width="0.9" fill="none"/>
<path d="M210.3,312.9V315.9M209.1,314.4H211.5" stroke="#999" stroke-width="0.9" fill="none"/>
<polyline points="21.8,197.5 23.3,212.8 25.6,222.8 28,228 31,232 33.75,235 36.5,244 39.4,253.75 42.5,266.25 46.25,276.25 48.75,278.75 53.3,282.2 60,286.9 66.25,290 72.5,293.75 78.75,297.5 83.75,300 90,300.67" fill="none" stroke="#999" stroke-width="1.0" stroke-linejoin="round"/>
<polyline points="90,300.67 91.25,300.8 110,301.2 221.6,301.2" fill="none" stroke="#999" stroke-width="1.0" stroke-dasharray="1.5 1"/>
<path d="M30,229.17V232.17M28.8,230.67H31.2" stroke="#999" stroke-width="0.9" fill="none"/>
<path d="M36,240.86V243.86M34.8,242.36H37.2" stroke="#999" stroke-width="0.9" fill="none"/>
<path d="M44,268.75V271.75M42.8,270.25H45.2" stroke="#999" stroke-width="0.9" fill="none"/>
<path d="M52,279.71V282.71M50.8,281.21H53.2" stroke="#999" stroke-width="0.9" fill="none"/>
<path d="M58,284V287M56.8,285.5H59.2" stroke="#999" stroke-width="0.9" fill="none"/>
<path d="M66,288.38V291.38M64.8,289.88H67.2" stroke="#999" stroke-width="0.9" fill="none"/>
<path d="M72,291.95V294.95M70.8,293.45H73.2" stroke="#999" stroke-width="0.9" fill="none"/>
<path d="M80,296.62V299.62M78.8,298.12H81.2" stroke="#999" stroke-width="0.9" fill="none"/>
<path d="M87,298.85V301.85M85.8,300.35H88.2" stroke="#999" stroke-width="0.9" fill="none"/>
<path d="M95.8,299.4V302.4M94.6,300.9H97" stroke="#999" stroke-width="0.9" fill="none"/>
<path d="M100.4,299.5V302.5M99.2,301H101.6" stroke="#999" stroke-width="0.9" fill="none"/>
<path d="M105,299.59V302.59M103.8,301.09H106.2" stroke="#999" stroke-width="0.9" fill="none"/>
<path d="M106.25,299.62V302.62M105.05,301.12H107.45" stroke="#999" stroke-width="0.9" fill="none"/>
<path d="M111.7,299.7V302.7M110.5,301.2H112.9" stroke="#999" stroke-width="0.9" fill="none"/>
<path d="M117.1,299.7V302.7M115.9,301.2H118.3" stroke="#999" stroke-width="0.9" fill="none"/>
<path d="M123.3,299.7V302.7M122.1,301.2H124.5" stroke="#999" stroke-width="0.9" fill="none"/>
<path d="M130,299.7V302.7M128.8,301.2H131.2" stroke="#999" stroke-width="0.9" fill="none"/>
<path d="M133.75,299.7V302.7M132.55,301.2H134.95" stroke="#999" stroke-width="0.9" fill="none"/>
<path d="M152.9,299.7V302.7M151.7,301.2H154.1" stroke="#999" stroke-width="0.9" fill="none"/>
<path d="M167.5,299.7V302.7M166.3,301.2H168.7" stroke="#999" stroke-width="0.9" fill="none"/>
<path d="M175.3,299.7V302.7M174.1,301.2H176.5" stroke="#999" stroke-width="0.9" fill="none"/>
<path d="M197.7,299.7V302.7M196.5,301.2H198.9" stroke="#999" stroke-width="0.9" fill="none"/>
<path d="M202.5,299.7V302.7M201.3,301.2H203.7" stroke="#999" stroke-width="0.9" fill="none"/>
<path d="M216.1,299.7V302.7M214.9,301.2H217.3" stroke="#999" stroke-width="0.9" fill="none"/>
<path d="M220,299.7V302.7M218.8,301.2H221.2" stroke="#999" stroke-width="0.9" fill="none"/>
<polyline points="21.8,197.5 22.2,198.3 23.3,203.9 24.4,209.4 25,212.8 26.7,219 30,225 30.6,226.1 33.9,231.7 35,235 38.3,240.6 42.5,247.5 45,251.5 48.75,256.25 52.8,261.1 55,263.75 61.25,270 65,276.25 68.75,278.9 72.5,283.1 78.75,286.25 87.5,288.1 98.75,290 101.7,292 125.8,292 130,295.4 133.3,298.1 189.5,298.2 189.5,303.8 226.4,303.8" fill="none" stroke="#000" stroke-width="1.05" stroke-linejoin="round"/>
<circle cx="22.5" cy="199.83" r="1.3" fill="#000"/>
<circle cx="23.2" cy="203.39" r="1.3" fill="#000"/>
<circle cx="23.9" cy="206.9" r="1.3" fill="#000"/>
<circle cx="24.5" cy="209.97" r="1.3" fill="#000"/>
<circle cx="25" cy="212.8" r="1.3" fill="#000"/>
<circle cx="28" cy="221.36" r="1.3" fill="#000"/>
<circle cx="31" cy="226.78" r="1.3" fill="#000"/>
<circle cx="34" cy="232" r="1.3" fill="#000"/>
<circle cx="38" cy="240.09" r="1.3" fill="#000"/>
<circle cx="42" cy="246.68" r="1.3" fill="#000"/>
<circle cx="47" cy="254.03" r="1.3" fill="#000"/>
<circle cx="53" cy="261.34" r="1.3" fill="#000"/>
<circle cx="59" cy="267.75" r="1.3" fill="#000"/>
<circle cx="65" cy="276.25" r="1.3" fill="#000"/>
<circle cx="70" cy="280.3" r="1.3" fill="#000"/>
<circle cx="75" cy="284.36" r="1.3" fill="#000"/>
<circle cx="81.25" cy="286.78" r="1.3" fill="#000"/>
<circle cx="86.25" cy="287.84" r="1.3" fill="#000"/>
<circle cx="90.6" cy="288.62" r="1.3" fill="#000"/>
<circle cx="98.75" cy="290" r="1.3" fill="#000"/>
<circle cx="104.4" cy="292" r="1.3" fill="#000"/>
<circle cx="106.25" cy="292" r="1.3" fill="#000"/>
<circle cx="113.1" cy="292" r="1.3" fill="#000"/>
<circle cx="115.6" cy="292" r="1.3" fill="#000"/>
<circle cx="123.1" cy="292" r="1.3" fill="#000"/>
<circle cx="125" cy="292" r="1.3" fill="#000"/>
<circle cx="133.75" cy="298.1" r="1.3" fill="#000"/>
<circle cx="145" cy="298.12" r="1.3" fill="#000"/>
<circle cx="147.5" cy="298.13" r="1.3" fill="#000"/>
<circle cx="152.5" cy="298.13" r="1.3" fill="#000"/>
<circle cx="153.75" cy="298.14" r="1.3" fill="#000"/>
<circle cx="163.75" cy="298.15" r="1.3" fill="#000"/>
<circle cx="173.1" cy="298.17" r="1.3" fill="#000"/>
<circle cx="175.6" cy="298.18" r="1.3" fill="#000"/>
<circle cx="181.9" cy="298.19" r="1.3" fill="#000"/>
<circle cx="187.5" cy="298.2" r="1.3" fill="#000"/>
<circle cx="188.75" cy="298.2" r="1.3" fill="#000"/>
<circle cx="195" cy="303.8" r="1.3" fill="#000"/>
<circle cx="198.1" cy="303.8" r="1.3" fill="#000"/>
<circle cx="204.4" cy="303.8" r="1.3" fill="#000"/>
<circle cx="210" cy="303.8" r="1.3" fill="#000"/>
<circle cx="225.5" cy="303.8" r="1.3" fill="#000"/>
<polyline points="21.8,197.5 22.2,198.3 23.3,203.9 24.4,209.4 25,212.8 26.7,217.2 28.9,220.6 30.6,225 35,229.4 38.3,232.8 41.9,235 43.1,235.3 45.6,238 48.75,243.5 51.7,246.5 53.9,249 58.75,255.6 62,257.8 66.25,260 70.6,262 75,265 76.25,265.6 82.5,267.5 88.75,268.75 97.5,270 101.25,273.1 107.5,275 115,276.25 118.5,277.8 120,278 131.9,278 136.25,283.1 140,286.25 156.25,286.25 157.5,290 158,290" fill="none" stroke="#000" stroke-width="1.05" stroke-linejoin="round"/>
<polyline points="158,290 215.7,290" fill="none" stroke="#000" stroke-width="1.05" stroke-dasharray="1 1"/>
<circle cx="22.6" cy="200.34" r="1.3" fill="#000"/>
<circle cx="23.3" cy="203.9" r="1.3" fill="#000"/>
<circle cx="24" cy="207.4" r="1.3" fill="#000"/>
<circle cx="24.6" cy="210.53" r="1.3" fill="#000"/>
<circle cx="25.3" cy="213.58" r="1.3" fill="#000"/>
<circle cx="26" cy="215.39" r="1.3" fill="#000"/>
<circle cx="27" cy="217.66" r="1.3" fill="#000"/>
<circle cx="28" cy="219.21" r="1.3" fill="#000"/>
<circle cx="31" cy="225.4" r="1.3" fill="#000"/>
<circle cx="34" cy="228.4" r="1.3" fill="#000"/>
<circle cx="37" cy="231.46" r="1.3" fill="#000"/>
<circle cx="40" cy="233.84" r="1.3" fill="#000"/>
<circle cx="43" cy="235.28" r="1.3" fill="#000"/>
<circle cx="46" cy="238.7" r="1.3" fill="#000"/>
<circle cx="49" cy="243.75" r="1.3" fill="#000"/>
<circle cx="52" cy="246.84" r="1.3" fill="#000"/>
<circle cx="56" cy="251.86" r="1.3" fill="#000"/>
<circle cx="60" cy="256.45" r="1.3" fill="#000"/>
<circle cx="64" cy="258.84" r="1.3" fill="#000"/>
<circle cx="68" cy="260.8" r="1.3" fill="#000"/>
<circle cx="72" cy="262.95" r="1.3" fill="#000"/>
<circle cx="76" cy="265.48" r="1.3" fill="#000"/>
<circle cx="79" cy="266.44" r="1.3" fill="#000"/>
<circle cx="82.5" cy="267.5" r="1.3" fill="#000"/>
<circle cx="88.75" cy="268.75" r="1.3" fill="#000"/>
<circle cx="91.9" cy="269.2" r="1.3" fill="#000"/>
<circle cx="93.1" cy="269.37" r="1.3" fill="#000"/>
<circle cx="98.1" cy="270.5" r="1.3" fill="#000"/>
<circle cx="100.6" cy="272.56" r="1.3" fill="#000"/>
<circle cx="106.9" cy="274.82" r="1.3" fill="#000"/>
<circle cx="108.75" cy="275.21" r="1.3" fill="#000"/>
<circle cx="115" cy="276.25" r="1.3" fill="#000"/>
<circle cx="119.4" cy="277.92" r="1.3" fill="#000"/>
<circle cx="123.75" cy="278" r="1.3" fill="#000"/>
<circle cx="125.6" cy="278" r="1.3" fill="#000"/>
<circle cx="130.6" cy="278" r="1.3" fill="#000"/>
<circle cx="136.25" cy="283.1" r="1.3" fill="#000"/>
<circle cx="141.25" cy="286.25" r="1.3" fill="#000"/>
<circle cx="145" cy="286.25" r="1.3" fill="#000"/>
<circle cx="147.5" cy="286.25" r="1.3" fill="#000"/>
<circle cx="150" cy="286.25" r="1.3" fill="#000"/>
<circle cx="152.5" cy="286.25" r="1.3" fill="#000"/>
<circle cx="161.3" cy="290" r="1.3" fill="#000"/>
<circle cx="163" cy="290" r="1.3" fill="#000"/>
<circle cx="164.5" cy="290" r="1.3" fill="#000"/>
<circle cx="166" cy="290" r="1.3" fill="#000"/>
<circle cx="168" cy="290" r="1.3" fill="#000"/>
<circle cx="170" cy="290" r="1.3" fill="#000"/>
<circle cx="172" cy="290" r="1.3" fill="#000"/>
<circle cx="174" cy="290" r="1.3" fill="#000"/>
<circle cx="176.25" cy="290" r="1.3" fill="#000"/>
<circle cx="187.5" cy="290" r="1.3" fill="#000"/>
<circle cx="189" cy="290" r="1.3" fill="#000"/>
<circle cx="191.25" cy="290" r="1.3" fill="#000"/>
<circle cx="206.25" cy="290" r="1.3" fill="#000"/>
<circle cx="211.25" cy="290" r="1.3" fill="#000"/>
<circle cx="215" cy="290" r="1.3" fill="#000"/>
<polyline points="287.3,197.7 289.75,206.25 293.5,218.75 296.6,231.25 298.5,240 300,245 302.5,258.75 304.4,265 304.4,279.4 307.5,279.4 310,294.4 331.9,294.4 331.9,302.5 340,302.5 340,310.2 468.5,310.3" fill="none" stroke="#8a8a8a" stroke-width="0.9" stroke-linejoin="round"/>
<path d="M320,292.9V295.9M318.8,294.4H321.2" stroke="#999" stroke-width="0.9" fill="none"/>
<path d="M350,308.71V311.71M348.8,310.21H351.2" stroke="#999" stroke-width="0.9" fill="none"/>
<path d="M360,308.72V311.72M358.8,310.22H361.2" stroke="#999" stroke-width="0.9" fill="none"/>
<path d="M410,308.75V311.75M408.8,310.25H411.2" stroke="#999" stroke-width="0.9" fill="none"/>
<path d="M434.3,308.77V311.77M433.1,310.27H435.5" stroke="#999" stroke-width="0.9" fill="none"/>
<path d="M439.8,308.78V311.78M438.6,310.28H441" stroke="#999" stroke-width="0.9" fill="none"/>
<path d="M468,308.8V311.8M466.8,310.3H469.2" stroke="#999" stroke-width="0.9" fill="none"/>
<polyline points="287.3,197.7 291,212.5 294.75,228.75 297.25,240 299.4,245 301.7,256 303.5,262 305,266.25 307.5,266.25 310,268.75 313.75,273.75 315.6,278.75 325,278.75 325.6,281.25 331.25,281.9 332.5,283.75 342.5,283.75 352.5,284 353,285.16" fill="none" stroke="#999" stroke-width="1.0" stroke-linejoin="round"/>
<polyline points="353,285.16 353.75,286.9 370.6,286.9 370.6,292.2 480.3,292.1" fill="none" stroke="#999" stroke-width="1.0" stroke-dasharray="1.5 1"/>
<path d="M293,219.67V222.67M291.8,221.17H294.2" stroke="#999" stroke-width="0.9" fill="none"/>
<path d="M298,240.24V243.24M296.8,241.74H299.2" stroke="#999" stroke-width="0.9" fill="none"/>
<path d="M303,258.83V261.83M301.8,260.33H304.2" stroke="#999" stroke-width="0.9" fill="none"/>
<path d="M310,267.25V270.25M308.8,268.75H311.2" stroke="#999" stroke-width="0.9" fill="none"/>
<path d="M318,277.25V280.25M316.8,278.75H319.2" stroke="#999" stroke-width="0.9" fill="none"/>
<path d="M324,277.25V280.25M322.8,278.75H325.2" stroke="#999" stroke-width="0.9" fill="none"/>
<path d="M330,280.26V283.26M328.8,281.76H331.2" stroke="#999" stroke-width="0.9" fill="none"/>
<path d="M337,282.25V285.25M335.8,283.75H338.2" stroke="#999" stroke-width="0.9" fill="none"/>
<path d="M345,282.31V285.31M343.8,283.81H346.2" stroke="#999" stroke-width="0.9" fill="none"/>
<path d="M350,282.44V285.44M348.8,283.94H351.2" stroke="#999" stroke-width="0.9" fill="none"/>
<path d="M358,285.4V288.4M356.8,286.9H359.2" stroke="#999" stroke-width="0.9" fill="none"/>
<path d="M364,285.4V288.4M362.8,286.9H365.2" stroke="#999" stroke-width="0.9" fill="none"/>
<path d="M376,290.7V293.7M374.8,292.2H377.2" stroke="#999" stroke-width="0.9" fill="none"/>
<path d="M385,290.69V293.69M383.8,292.19H386.2" stroke="#999" stroke-width="0.9" fill="none"/>
<path d="M390,290.68V293.68M388.8,292.18H391.2" stroke="#999" stroke-width="0.9" fill="none"/>
<path d="M395,290.68V293.68M393.8,292.18H396.2" stroke="#999" stroke-width="0.9" fill="none"/>
<path d="M401,290.67V293.67M399.8,292.17H402.2" stroke="#999" stroke-width="0.9" fill="none"/>
<path d="M410,290.66V293.66M408.8,292.16H411.2" stroke="#999" stroke-width="0.9" fill="none"/>
<path d="M424.3,290.65V293.65M423.1,292.15H425.5" stroke="#999" stroke-width="0.9" fill="none"/>
<path d="M431,290.64V293.64M429.8,292.14H432.2" stroke="#999" stroke-width="0.9" fill="none"/>
<path d="M446.5,290.63V293.63M445.3,292.13H447.7" stroke="#999" stroke-width="0.9" fill="none"/>
<path d="M460.8,290.62V293.62M459.6,292.12H462" stroke="#999" stroke-width="0.9" fill="none"/>
<path d="M471.9,290.61V293.61M470.7,292.11H473.1" stroke="#999" stroke-width="0.9" fill="none"/>
<path d="M477.4,290.6V293.6M476.2,292.1H478.6" stroke="#999" stroke-width="0.9" fill="none"/>
<polyline points="287.3,197.7 289.75,200 293,205 296,210 298.5,218.75 301,225 303.5,232.5 305.4,240 307.5,248.75 311.25,260 315.6,261.9 318.1,267.5 323.75,270.6 331.25,275.6 332.5,278.5 337.5,279.4 342.5,286.25 344.4,290 359.4,290 359.4,293.3 387.2,293.3 387.2,296.1 444.8,296.1 444.8,303.7 470.8,303.7" fill="none" stroke="#000" stroke-width="1.05" stroke-linejoin="round"/>
<circle cx="290" cy="200.38" r="1.3" fill="#000"/>
<circle cx="294" cy="206.67" r="1.3" fill="#000"/>
<circle cx="298" cy="217" r="1.3" fill="#000"/>
<circle cx="302" cy="228" r="1.3" fill="#000"/>
<circle cx="305" cy="238.42" r="1.3" fill="#000"/>
<circle cx="308" cy="250.25" r="1.3" fill="#000"/>
<circle cx="312" cy="260.33" r="1.3" fill="#000"/>
<circle cx="316" cy="262.8" r="1.3" fill="#000"/>
<circle cx="320" cy="268.54" r="1.3" fill="#000"/>
<circle cx="324" cy="270.77" r="1.3" fill="#000"/>
<circle cx="328" cy="273.43" r="1.3" fill="#000"/>
<circle cx="332" cy="277.34" r="1.3" fill="#000"/>
<circle cx="336" cy="279.13" r="1.3" fill="#000"/>
<circle cx="340" cy="282.82" r="1.3" fill="#000"/>
<circle cx="348" cy="290" r="1.3" fill="#000"/>
<circle cx="350" cy="290" r="1.3" fill="#000"/>
<circle cx="352" cy="290" r="1.3" fill="#000"/>
<circle cx="356" cy="290" r="1.3" fill="#000"/>
<circle cx="362" cy="293.3" r="1.3" fill="#000"/>
<circle cx="366" cy="293.3" r="1.3" fill="#000"/>
<circle cx="370" cy="293.3" r="1.3" fill="#000"/>
<circle cx="376" cy="293.3" r="1.3" fill="#000"/>
<circle cx="382" cy="293.3" r="1.3" fill="#000"/>
<circle cx="386" cy="293.3" r="1.3" fill="#000"/>
<circle cx="404.4" cy="296.1" r="1.3" fill="#000"/>
<circle cx="417.7" cy="296.1" r="1.3" fill="#000"/>
<circle cx="421" cy="296.1" r="1.3" fill="#000"/>
<circle cx="431" cy="296.1" r="1.3" fill="#000"/>
<circle cx="440.9" cy="296.1" r="1.3" fill="#000"/>
<circle cx="444.2" cy="296.1" r="1.3" fill="#000"/>
<circle cx="456.4" cy="303.7" r="1.3" fill="#000"/>
<circle cx="458.6" cy="303.7" r="1.3" fill="#000"/>
<circle cx="470.4" cy="303.7" r="1.3" fill="#000"/>
<polyline points="287.3,197.7 289.75,200 293,205 296.6,209.4 299.75,216.25 302.25,222.5 304.1,228.75 307.9,231.9 311,233.1 313.5,238.75 315.4,242.5 318.3,247.8 320,250 321.9,252.5 328.75,256.9 332.5,258.1 335,261.9 340,263.1 346.25,265.6 348.75,269.4 390,269.99" fill="none" stroke="#000" stroke-width="1.05" stroke-linejoin="round"/>
<polyline points="390,269.99 390.6,270 390.6,273.3 402.8,273.3 402.8,278.9 475.6,278.8" fill="none" stroke="#000" stroke-width="1.05" stroke-dasharray="1 1"/>
<circle cx="288" cy="198.36" r="1.3" fill="#000"/>
<circle cx="289" cy="199.3" r="1.3" fill="#000"/>
<circle cx="290.5" cy="201.15" r="1.3" fill="#000"/>
<circle cx="292" cy="203.46" r="1.3" fill="#000"/>
<circle cx="293.5" cy="205.61" r="1.3" fill="#000"/>
<circle cx="295" cy="207.44" r="1.3" fill="#000"/>
<circle cx="296.6" cy="209.4" r="1.3" fill="#000"/>
<circle cx="298" cy="212.44" r="1.3" fill="#000"/>
<circle cx="299.5" cy="215.71" r="1.3" fill="#000"/>
<circle cx="301" cy="219.38" r="1.3" fill="#000"/>
<circle cx="302.5" cy="223.34" r="1.3" fill="#000"/>
<circle cx="304.1" cy="228.75" r="1.3" fill="#000"/>
<circle cx="305.5" cy="229.91" r="1.3" fill="#000"/>
<circle cx="307.9" cy="231.9" r="1.3" fill="#000"/>
<circle cx="310" cy="232.71" r="1.3" fill="#000"/>
<circle cx="311" cy="233.1" r="1.3" fill="#000"/>
<circle cx="313.5" cy="238.75" r="1.3" fill="#000"/>
<circle cx="315.4" cy="242.5" r="1.3" fill="#000"/>
<circle cx="317" cy="245.42" r="1.3" fill="#000"/>
<circle cx="318.3" cy="247.8" r="1.3" fill="#000"/>
<circle cx="320" cy="250" r="1.3" fill="#000"/>
<circle cx="321.9" cy="252.5" r="1.3" fill="#000"/>
<circle cx="324" cy="253.85" r="1.3" fill="#000"/>
<circle cx="326" cy="255.13" r="1.3" fill="#000"/>
<circle cx="328.75" cy="256.9" r="1.3" fill="#000"/>
<circle cx="330.5" cy="257.46" r="1.3" fill="#000"/>
<circle cx="332.5" cy="258.1" r="1.3" fill="#000"/>
<circle cx="335" cy="261.9" r="1.3" fill="#000"/>
<circle cx="337" cy="262.38" r="1.3" fill="#000"/>
<circle cx="340" cy="263.1" r="1.3" fill="#000"/>
<circle cx="341.25" cy="263.6" r="1.3" fill="#000"/>
<circle cx="343" cy="264.3" r="1.3" fill="#000"/>
<circle cx="346.9" cy="266.59" r="1.3" fill="#000"/>
<circle cx="348.75" cy="269.4" r="1.3" fill="#000"/>
<circle cx="351.25" cy="269.44" r="1.3" fill="#000"/>
<circle cx="356.25" cy="269.51" r="1.3" fill="#000"/>
<circle cx="358.75" cy="269.54" r="1.3" fill="#000"/>
<circle cx="360" cy="269.56" r="1.3" fill="#000"/>
<circle cx="365.6" cy="269.64" r="1.3" fill="#000"/>
<circle cx="373.1" cy="269.75" r="1.3" fill="#000"/>
<circle cx="378.75" cy="269.83" r="1.3" fill="#000"/>
<circle cx="383.75" cy="269.9" r="1.3" fill="#000"/>
<circle cx="385" cy="269.92" r="1.3" fill="#000"/>
<circle cx="395" cy="273.3" r="1.3" fill="#000"/>
<circle cx="401.25" cy="273.3" r="1.3" fill="#000"/>
<circle cx="408.4" cy="278.89" r="1.3" fill="#000"/>
<circle cx="419.9" cy="278.88" r="1.3" fill="#000"/>
<circle cx="421" cy="278.88" r="1.3" fill="#000"/>
<circle cx="422.1" cy="278.87" r="1.3" fill="#000"/>
<circle cx="426.5" cy="278.87" r="1.3" fill="#000"/>
<circle cx="431" cy="278.86" r="1.3" fill="#000"/>
<circle cx="445.4" cy="278.84" r="1.3" fill="#000"/>
<circle cx="452" cy="278.83" r="1.3" fill="#000"/>
<circle cx="456.4" cy="278.83" r="1.3" fill="#000"/>
<circle cx="468.6" cy="278.81" r="1.3" fill="#000"/>
<circle cx="475.2" cy="278.8" r="1.3" fill="#000"/>
<text x="216.6" y="32.1" class="pv"><tspan font-style="italic">P</tspan> = NS</text>
<text x="475.5" y="31.3" class="pv"><tspan font-style="italic">P</tspan> = .043</text>
<text x="241.5" y="108.2" class="lb" text-anchor="end"><tspan font-style="italic">NPM1</tspan>-mut (N= 298)</text>
<text x="244.5" y="141.6" class="lb" text-anchor="end"><tspan font-style="italic">NPM1</tspan>-wt (N= 360)</text>
<text x="503.9" y="96" class="lb" text-anchor="end"><tspan font-style="italic">NPM1</tspan>-mut (N=166)</text>
<text x="504.9" y="138.4" class="lb" text-anchor="end"><tspan font-style="italic">NPM1</tspan>-wt (N=135)</text>
<text x="114" y="212.8" class="lg">Group A: <tspan font-style="italic" font-weight="bold">NPM1</tspan>-mut/<tspan font-style="italic" font-weight="bold">FLT3</tspan>-ITD neg (N = 169)</text>
<text x="114" y="221.9" class="lg">Group B: <tspan font-style="italic" font-weight="bold">NPM1</tspan>-mut/<tspan font-style="italic" font-weight="bold">FLT3</tspan>-ITD pos (N = 129)</text>
<text x="114" y="231" class="lg">Group C: <tspan font-style="italic" font-weight="bold">NPM1</tspan>-wt/<tspan font-style="italic" font-weight="bold">FLT3</tspan>-ITD pos (N = 70)</text>
<text x="114" y="240.1" class="lg">Group D: <tspan font-style="italic" font-weight="bold">NPM1</tspan>-wt/<tspan font-style="italic" font-weight="bold">FLT3</tspan>-ITD neg (N =290)</text>
<text x="378.3" y="212.8" class="lg">Group A: <tspan font-style="italic" font-weight="bold">NPM1</tspan>-mut/<tspan font-style="italic" font-weight="bold">FLT3</tspan>-ITD neg (N = 103)</text>
<text x="378.3" y="222.13" class="lg">Group B: <tspan font-style="italic" font-weight="bold">NPM1</tspan>-mut/<tspan font-style="italic" font-weight="bold">FLT3</tspan>-ITD pos (N = 63)</text>
<text x="378.3" y="231.46" class="lg">Group C: <tspan font-style="italic" font-weight="bold">NPM1</tspan>-wt/<tspan font-style="italic" font-weight="bold">FLT3</tspan>-ITD pos (N = 31)</text>
<text x="378.3" y="240.79" class="lg">Group D: <tspan font-style="italic" font-weight="bold">NPM1</tspan>-wt/<tspan font-style="italic" font-weight="bold">FLT3</tspan>-ITD neg (N =104)</text>
<text x="208.9" y="281.6" class="gp">Group A</text>
<text x="222.1" y="299.1" class="gp">Group B</text>
<text x="222.9" y="312.3" class="gp">Group D</text>
<text x="198.2" y="325.9" class="gp">Group C</text>
<text x="468.5" y="274.1" class="gp">Group A</text>
<text x="483.8" y="293" class="gp">Group B</text>
<text x="477.9" y="308.4" class="gp">Group D</text>
<text x="470.8" y="322.3" class="gp">Group C</text>
</g>
</svg>
</body></html>
